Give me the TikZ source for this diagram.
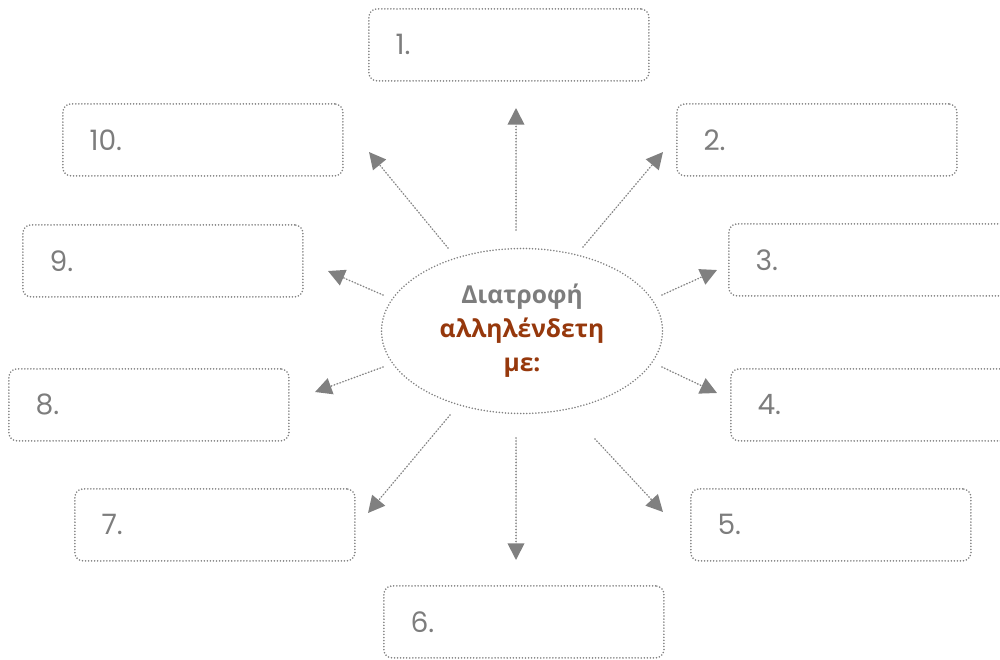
\documentclass[tikz,border=0pt]{standalone}
\usepackage{fontspec}
\setmainfont{Open Sans}
\newfontfamily\numfont{Poppins}
\usetikzlibrary{arrows.meta,shapes.geometric}
\definecolor{dotgray}{RGB}{128,128,128}
\definecolor{numgray}{RGB}{125,125,125}
\definecolor{rust}{RGB}{150,56,12}

\begin{document}
\begin{tikzpicture}[x=0.3mm,y=-0.3mm,
        dots/.style={draw=dotgray, line width=1.5pt, line cap=round, dash pattern=on 0pt off 2.6pt},
        numbox/.style={dots, rounded corners=7pt, minimum width=84mm, minimum height=21.6mm,
            text width=68mm, inner xsep=7.8mm, align=left, text=numgray,
            font=\numfont\fontsize{24}{28}\selectfont},
        link/.style={dots, -{Triangle[length=5mm,width=5mm]}}]
    \clip (0,0) rectangle (1000,659);

    % centre
    \node[ellipse, dots, minimum width=84.3mm, minimum height=49.5mm, inner sep=0pt,
        align=center, font=\bfseries\fontsize{21}{29}\selectfont] (core) at (522,331)
        {\textcolor{numgray}{Διατροφή}\\\textcolor{rust}{αλληλένδετη}\\\textcolor{rust}{με:}};

    % boxes
    \foreach \n/\x/\y in {1/368/8, 2/676/103, 3/728/223, 4/730/368, 5/690/488,
                          6/383/585, 7/74/488, 8/8/368, 9/22/224, 10/62/103}
        \node[numbox, anchor=north west] (b\n) at (\x,\y) {\n.};

    % arrows
    \foreach \n/\ax/\ay/\bx/\by in {1/516/230/516/108, 2/583/247/663/152, 3/662/295/717/270,
                                    4/662/367/717/393, 5/595/439/663/512, 6/516/438/516/560,
                                    7/450/415/368/513, 8/383/367/315/392, 9/383/295/328/271,
                                    10/448/248/369/152} {
        \coordinate (t\n) at (\ax,\ay);
        \coordinate (h\n) at (\bx,\by);
        \draw[link, fill=dotgray] (t\n) -- (h\n);
    }
\end{tikzpicture}
\end{document}
